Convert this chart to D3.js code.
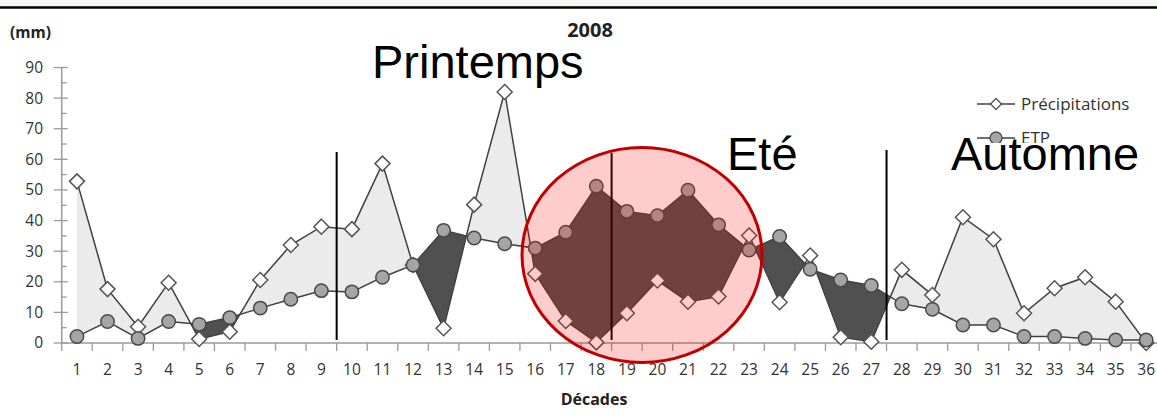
<!DOCTYPE html>
<html><head><meta charset="utf-8">
<script src="https://cdn.jsdelivr.net/npm/d3@7/dist/d3.min.js"></script>
<style>body{margin:0;background:#fff}svg{display:block}</style>
</head><body>
<svg id="c" width="1157" height="416"></svg>
<script>
const decades = d3.range(1, 37).map(String);
const precipitations = [52.8,17.6,5.3,19.7,1.3,3.7,20.6,32,38,37.2,58.6,25.5,4.8,45.2,82,22.6,7.2,0.2,9.7,20.4,13.5,15.2,35.1,13.3,28.6,1.9,0.4,23.9,15.7,41.1,33.9,9.7,17.9,21.5,13.5,0];
const etp = [2.1,7.0,1.5,7.0,6.1,8.3,11.4,14.3,17.1,16.7,21.5,25.5,36.8,34.3,32.4,31,36.2,51.2,43,41.6,49.9,38.6,30.4,34.8,24.1,20.6,18.8,12.8,11.0,5.9,5.9,2.1,2.1,1.5,1.0,1.0];
const yTicks = [0,10,20,30,40,50,60,70,80,90];
const seasons = [{label:"Printemps"},{label:"Eté"},{label:"Automne"}];
const seasonBreaks = ["9","18","27"]; // separators after these decades
const legendLabels = ["Précipitations","ETP"];

const svg = d3.select("#c");
const F = "'Open Sans', 'DejaVu Sans', sans-serif";
const TXT = "#333";

// top strip
svg.append("rect").attr("x",0).attr("y",0).attr("width",1157).attr("height",7).attr("fill","#f4f9f4");
svg.append("line").attr("x1",0).attr("x2",1157).attr("y1",7.5).attr("y2",7.5).attr("stroke","#000").attr("stroke-width",2.5);

const x0 = 61.7, step = 30.55;
const xb = d3.scaleBand().domain(decades).range([x0, x0 + step*36]).padding(0);
const xl = d3.scaleLinear().domain([1,36]).range([xb("1")+xb.bandwidth()/2, xb("36")+xb.bandwidth()/2]);
const y = d3.scaleLinear().domain([0,90]).range([343, 67.5]);

// fills between curves: split into runs of constant sign (crossings interpolated)
const pts = [];
for (let i=0;i<36;i++){
  const d = precipitations[i]-etp[i];
  pts.push({x:i+1,p:precipitations[i],e:etp[i],s: d>0?1:(d<0?-1:0)});
  if (i<35){
    const d0 = precipitations[i]-etp[i], d1 = precipitations[i+1]-etp[i+1];
    if (d0*d1<0){
      const t = d0/(d0-d1);
      const v = precipitations[i]+t*(precipitations[i+1]-precipitations[i]);
      pts.push({x:i+1+t,p:v,e:v,s:0});
    }
  }
}
const runs=[]; let cur={sign:0,pts:[]};
pts.forEach(q=>{
  if (q.s===0){
    cur.pts.push(q);
    if (cur.sign!==0) { runs.push(cur); cur={sign:0,pts:[q]}; }
    else cur.pts=[q];
  } else {
    if (cur.sign===0 || cur.sign===q.s){ cur.sign=q.s; cur.pts.push(q); }
    else { runs.push(cur); const last=cur.pts[cur.pts.length-1]; cur={sign:q.s,pts:[last,q]}; }
  }
});
if (cur.sign!==0) runs.push(cur);
const gFill = svg.append("g");
runs.forEach(r=>{
  const poly = r.pts.map(q=>[xl(q.x),y(q.p)]).concat(r.pts.slice().reverse().map(q=>[xl(q.x),y(q.e)]));
  gFill.append("path").attr("d","M"+poly.map(p=>p.join(",")).join("L")+"Z")
    .attr("fill", r.sign>0?"#ebebeb":"#505050")
    .attr("stroke", r.sign>0?"none":"#b0b0b0").attr("stroke-width",1).attr("stroke-dasharray","1.5,1.5");
});

// axes
const axisCol="#9a9a9a";
svg.append("line").attr("x1",x0).attr("x2",x0).attr("y1",y(90)).attr("y2",y(0)).attr("stroke",axisCol).attr("stroke-width",1.5);
svg.append("line").attr("x1",x0).attr("x2",1157).attr("y1",y(0)).attr("y2",y(0)).attr("stroke",axisCol).attr("stroke-width",1.5);
yTicks.forEach(v=>{
  svg.append("line").attr("x1",x0-8).attr("x2",x0+6).attr("y1",y(v)).attr("y2",y(v)).attr("stroke",axisCol).attr("stroke-width",1.3);
  svg.append("text").attr("x",43).attr("y",y(v)).attr("dy","0.35em").attr("text-anchor","end")
    .attr("font-family",F).attr("font-size",15.5).attr("fill",TXT).text(v);
  if(v<90) svg.append("line").attr("x1",x0).attr("x2",x0+5).attr("y1",y(v+5)).attr("y2",y(v+5)).attr("stroke",axisCol).attr("stroke-width",1.3);
});
decades.forEach(d=>{
  svg.append("line").attr("x1",xb(d)).attr("x2",xb(d)).attr("y1",y(0)).attr("y2",y(0)+8).attr("stroke",axisCol).attr("stroke-width",1.3);
});
const xAxis = svg.append("g").attr("transform",`translate(0,${y(0)})`).call(d3.axisBottom(xb).tickSize(0).tickPadding(21));
xAxis.select(".domain").remove();
xAxis.selectAll("text").attr("font-family",F).attr("font-size",15.5).attr("fill",TXT);

// titles
svg.append("text").attr("x",590).attr("y",37).attr("text-anchor","middle").attr("font-family",F).attr("font-weight","bold").attr("font-size",20).attr("fill","#222").text("2008");
svg.append("text").attr("x",10).attr("y",38).attr("font-family",F).attr("font-weight","bold").attr("font-size",15.5).attr("fill","#222").text("(mm)");
svg.append("text").attr("x",594).attr("y",405).attr("text-anchor","middle").attr("font-family",F).attr("font-weight","bold").attr("font-size",16).attr("fill","#222").text("Décades");

// series
const line = d3.line().x((d,i)=>xl(i+1)).y(d=>y(d));
const diamond = (cx,cy,h)=>`M${cx},${cy-h}L${cx+h},${cy}L${cx},${cy+h}L${cx-h},${cy}Z`;
svg.append("path").attr("d",line(precipitations)).attr("fill","none").attr("stroke","#404040").attr("stroke-width",1.5);
svg.append("g").selectAll("path").data(precipitations).join("path")
  .attr("d",(d,i)=>diamond(xl(i+1),y(d),7.5)).attr("fill","#fff").attr("stroke","#555").attr("stroke-width",1.5);
svg.append("path").attr("d",line(etp)).attr("fill","none").attr("stroke","#404040").attr("stroke-width",1.5);
svg.append("g").selectAll("circle").data(etp).join("circle")
  .attr("cx",(d,i)=>xl(i+1)).attr("cy",d=>y(d)).attr("r",6.7).attr("fill","#a5a5a5").attr("stroke","#4a4a4a").attr("stroke-width",1.5);

// legend
const lg = svg.append("g");
lg.append("line").attr("x1",977).attr("x2",1015).attr("y1",104).attr("y2",104).attr("stroke","#404040").attr("stroke-width",1.5);
lg.append("path").attr("d",diamond(996,104,5.5)).attr("fill","#fff").attr("stroke","#555").attr("stroke-width",1.3);
lg.append("text").attr("x",1021).attr("y",104).attr("dy","0.35em").attr("font-family",F).attr("font-size",17).attr("fill",TXT).text(legendLabels[0]);
lg.append("line").attr("x1",977).attr("x2",1015).attr("y1",138).attr("y2",138).attr("stroke","#404040").attr("stroke-width",1.5);
lg.append("circle").attr("cx",996).attr("cy",138).attr("r",6).attr("fill","#a5a5a5").attr("stroke","#4a4a4a").attr("stroke-width",1.3);
lg.append("text").attr("x",1021).attr("y",138).attr("dy","0.35em").attr("font-family",F).attr("font-size",17).attr("fill",TXT).text(legendLabels[1]);

// season separators
seasonBreaks.forEach((d,i)=>{
  const xx = xb(d)+xb.bandwidth();
  svg.append("line").attr("x1",xx).attr("x2",xx).attr("y1",[152,153,150][i]).attr("y2",340).attr("stroke","#000").attr("stroke-width",2);
});

// red ellipse
svg.append("ellipse").attr("cx",642).attr("cy",255).attr("rx",120).attr("ry",107.5)
  .attr("fill","rgba(255,0,0,0.2)").attr("stroke","#c00000").attr("stroke-width",3);

// season labels
const BF = "'Liberation Sans', Arial, sans-serif";
svg.append("rect").attr("x",945).attr("y",143).attr("width",205).attr("height",42).attr("fill","#fff");
svg.append("text").attr("x",372).attr("y",78).attr("font-family",BF).attr("font-size",47).attr("fill","#000").text(seasons[0].label);
svg.append("text").attr("x",727).attr("y",170).attr("font-family",BF).attr("font-size",47).attr("fill","#000").text(seasons[1].label);
svg.append("text").attr("x",951).attr("y",170).attr("font-family",BF).attr("font-size",47).attr("fill","#000").text(seasons[2].label);
</script>
</body></html>
